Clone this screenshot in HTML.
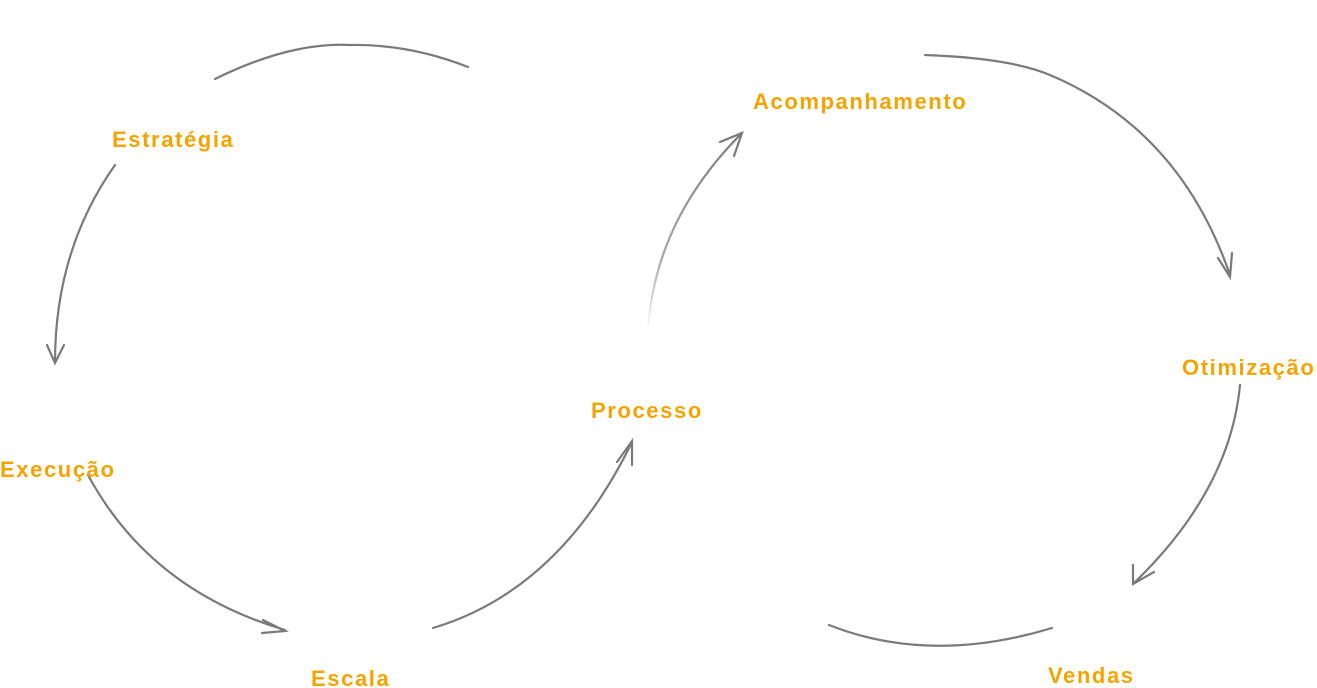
<!DOCTYPE html>
<html><head><meta charset="utf-8"><style>
html,body{margin:0;padding:0;background:#fff;width:1317px;height:688px;overflow:hidden;position:relative;font-family:"Liberation Sans",sans-serif}
.l{position:absolute;color:#f5a300;font-weight:bold;font-size:22px;letter-spacing:1.6px;white-space:nowrap}
svg{position:absolute;left:0;top:0}
</style></head><body>
<svg width="1317" height="688" viewBox="0 0 1317 688" fill="none" stroke="#7a7a7a" stroke-width="2.2" stroke-linecap="round">
<defs><linearGradient id="g" x1="0" y1="1" x2="0" y2="0"><stop offset="0" stop-color="#fff"/><stop offset="0.35" stop-color="#aaa"/><stop offset="1" stop-color="#7a7a7a"/></linearGradient></defs>
<path d="M215 79 Q290 42 350 45 Q410 44 468 67"/>
<path d="M115 165 Q55 250 55 362"/>
<path d="M47 345 L55 363 L64 345"/>
<path d="M88 475 Q150 590 285 630"/>
<path d="M263 620 L285 631 L262 633"/>
<path d="M433 628 Q560 590 632 442"/>
<path d="M617 462 L632 441 L632 465"/>
<path d="M648 330 Q655 220 742 133" stroke="url(#g)"/>
<path d="M720 142 L742 133 L734 156"/>
<path d="M925 55 Q1010 58 1050 75 Q1180 130 1230 275"/>
<path d="M1218 258 L1230 277 L1232 253"/>
<path d="M1240 385 Q1230 490 1135 582"/>
<path d="M1133 565 L1133 584 L1154 572"/>
<path d="M829 625 Q930 665 1052 628"/>
</svg>
<div class="l" style="left:112px;top:127px">Estratégia</div>
<div class="l" style="left:0px;top:457px">Execução</div>
<div class="l" style="left:311px;top:666px">Escala</div>
<div class="l" style="left:591px;top:398px">Processo</div>
<div class="l" style="left:753px;top:89px">Acompanhamento</div>
<div class="l" style="left:1182px;top:355px">Otimização</div>
<div class="l" style="left:1048px;top:663px">Vendas</div>
</body></html>
